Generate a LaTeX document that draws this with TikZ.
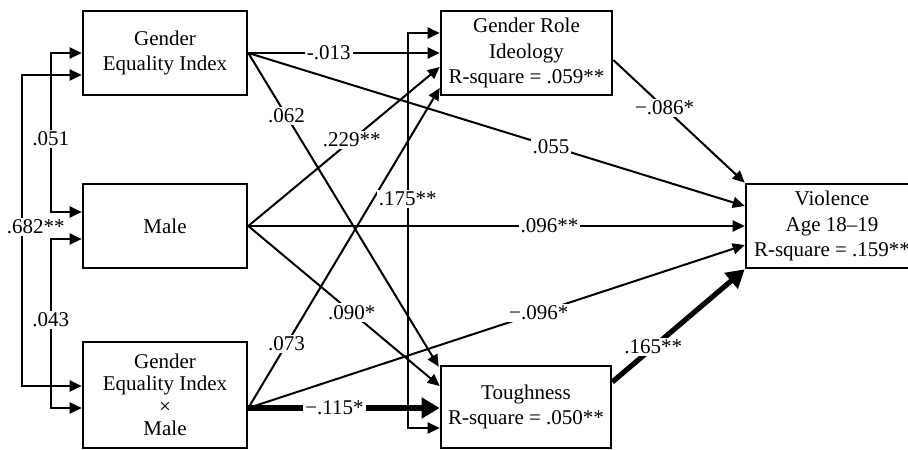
\documentclass[tikz,border=0pt]{standalone}
\usepackage{fontspec}
\setmainfont{Liberation Serif}
\usetikzlibrary{arrows.meta,calc}

\begin{document}
\begin{tikzpicture}[x=0.5pt,y=-0.5pt,
  box/.style={draw,line width=1.3pt,align=center,inner sep=0pt,
    font=\fontsize{10.5}{12.75}\selectfont},
  conn/.style={line width=1pt,-{Triangle[length=6pt,width=5.5pt]}},
  heavy/.style={line width=2.6pt,-{Triangle[length=9pt,width=10pt]}},
  twohead/.style={line width=1pt,
    {Triangle[length=6pt,width=5.5pt]}-{Triangle[length=6pt,width=5.5pt]}},
  coef/.style={fill=white,inner sep=1pt,font=\fontsize{10.5}{12}\selectfont}
]
\useasboundingbox (0,0) rectangle (908,449);

% variables
\node[box,minimum width=82pt,minimum height=42pt] (gei) at (165,53) {Gender\\Equality Index};
\node[box,minimum width=82pt,minimum height=42pt] (male) at (165,226) {Male};
\node[box,minimum width=82pt,minimum height=53pt,
  font=\fontsize{10.5}{11.2}\selectfont] (gxm) at (165,395) {Gender\\Equality Index\\×\\Male};
\node[box,minimum width=85.5pt,minimum height=42pt] (gri) at (526.5,53) {Gender Role\\Ideology\\R-square = .059**};
\node[box,minimum width=85pt,minimum height=41pt] (tough) at (526,407) {Toughness\\R-square = .050**};
\node[box,minimum width=86pt,minimum height=42pt] (viol) at (832,226) {Violence\\Age 18–19\\R-square = .159**};

% correlations among the exogenous variables
\draw[twohead] ($(gei.west)+(0,22)$) -- ++(-60,0)
  |- node[coef,pos=0.244,xshift=7pt]{.682**} ($(gxm.west)+(0,-9)$);
\draw[twohead] (gei.west) -- ++(-31,0)
  |- node[coef,pos=0.27]{.051} ($(male.west)+(0,-14)$);
\draw[twohead] ($(male.west)+(0,13)$) -- ++(-31,0)
  |- node[coef,pos=0.24]{.043} ($(gxm.west)+(0,13)$);

% paths from Gender Equality Index
\draw[conn] (gei.east) -- node[coef,pos=0.42]{-.013} (gri.west);
\draw[conn] (gei.east) -- node[coef,pos=0.61]{.055} ($(viol.west)+(0,-20)$);
\draw[conn] (gei.east) -- node[coef,pos=0.2]{.062} ($(tough.north west)+(-1,2)$);

% paths from Male
\draw[conn] (male.east) -- node[coef,pos=0.54]{.229**} ($(gri.west)+(0,14)$);
\draw[conn] (male.east) -- node[coef,pos=0.607]{.096**} (viol.west);
\draw[conn] (male.east) -- node[coef,pos=0.54]{.090*} ($(tough.west)+(0,-21)$);

% paths from the interaction term
\coordinate (gxmout) at ($(gxm.east)+(0,13)$);
\draw[conn] (gxmout) -- node[coef,pos=0.2]{.073} ($(gri.west)+(0,35)$);
\draw[conn] (gxmout) -- node[coef,pos=0.585]{−.096*} ($(viol.west)+(0,19)$);
\draw[heavy] (gxmout) -- node[coef,pos=0.45]{−.115*} ($(tough.west)+(0,1)$);

% residual correlation of the mediators
\draw[twohead] ($(gri.west)+(0,-20)$) -- ++(-32,0)
  |- node[coef,pos=0.21]{.175**} ($(tough.west)+(0,21)$);

% paths from the mediators to violence
\draw[conn] ($(gri.east)+(0,7)$) -- node[coef,pos=0.39]{−.086*} (viol.north west);
\draw[heavy] ($(tough.east)+(0,-25)$) -- node[coef,pos=0.31]{.165**} (viol.south west);
\end{tikzpicture}
\end{document}
